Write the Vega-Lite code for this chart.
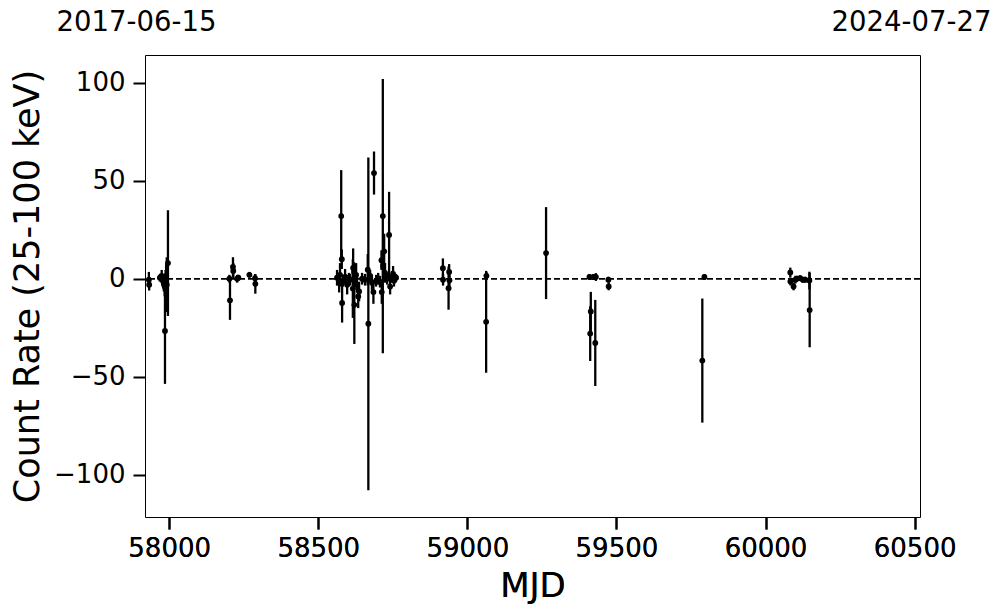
{
  "$schema": "https://vega.github.io/schema/vega-lite/v6.json",
  "width": 775,
  "height": 462,
  "autosize": {"type": "none"},
  "padding": {"left": 145, "top": 55, "right": 77, "bottom": 96},
  "background": "white",
  "config": {
    "font": "DejaVu Sans",
    "view": {"stroke": "black", "strokeWidth": 1},
    "axis": {
      "labelFont": "DejaVu Sans",
      "titleFont": "DejaVu Sans",
      "labelColor": "black",
      "titleColor": "black",
      "tickColor": "black",
      "grid": false,
      "domain": false,
      "labelFlush": false,
      "labelOverlap": false
    }
  },
  "datasets": {
    "obs": [
      {"mjd": 57932, "rate": -0.5, "err": 4},
      {"mjd": 57933, "rate": -3, "err": 3},
      {"mjd": 57969, "rate": 0.5, "err": 2},
      {"mjd": 57975, "rate": 1.5, "err": 3},
      {"mjd": 57979, "rate": -1, "err": 3},
      {"mjd": 57982, "rate": -2.5, "err": 4},
      {"mjd": 57985, "rate": -4, "err": 5},
      {"mjd": 57988, "rate": 0.5, "err": 4},
      {"mjd": 57990, "rate": 1.5, "err": 6},
      {"mjd": 57992, "rate": -3, "err": 14},
      {"mjd": 57986, "rate": -26.7, "err": 27},
      {"mjd": 57996, "rate": 8, "err": 27},
      {"mjd": 58202, "rate": 0, "err": 2},
      {"mjd": 58204, "rate": -11, "err": 10},
      {"mjd": 58214, "rate": 6, "err": 5},
      {"mjd": 58215, "rate": 4, "err": 4},
      {"mjd": 58228, "rate": 0, "err": 2},
      {"mjd": 58232, "rate": 0.5, "err": 1.5},
      {"mjd": 58269, "rate": 2, "err": 1.5},
      {"mjd": 58288, "rate": 0.3, "err": 2},
      {"mjd": 58289, "rate": -2.6, "err": 5},
      {"mjd": 58563, "rate": 0.5, "err": 4},
      {"mjd": 58570, "rate": -2, "err": 5},
      {"mjd": 58573, "rate": 2, "err": 6},
      {"mjd": 58577, "rate": 32, "err": 23.5},
      {"mjd": 58579, "rate": 10, "err": 5},
      {"mjd": 58580, "rate": -12.4, "err": 10},
      {"mjd": 58583, "rate": -1, "err": 3},
      {"mjd": 58590, "rate": 1, "err": 4},
      {"mjd": 58597, "rate": -3, "err": 5},
      {"mjd": 58603, "rate": 0, "err": 3},
      {"mjd": 58607, "rate": -0.5, "err": 3},
      {"mjd": 58616, "rate": -5, "err": 15},
      {"mjd": 58617, "rate": 5.5, "err": 10},
      {"mjd": 58620, "rate": 3.5, "err": 5},
      {"mjd": 58621, "rate": -13.3, "err": 20},
      {"mjd": 58624, "rate": 0.5, "err": 4},
      {"mjd": 58627, "rate": 2, "err": 6},
      {"mjd": 58630, "rate": -3, "err": 4},
      {"mjd": 58634, "rate": -9, "err": 6},
      {"mjd": 58637, "rate": -6.5, "err": 5},
      {"mjd": 58647, "rate": 0, "err": 3},
      {"mjd": 58657, "rate": -0.5, "err": 3},
      {"mjd": 58666, "rate": 4.6, "err": 8},
      {"mjd": 58668, "rate": -23, "err": 85},
      {"mjd": 58674, "rate": 1.5, "err": 3},
      {"mjd": 58680, "rate": -2, "err": 4},
      {"mjd": 58685, "rate": -6.8, "err": 6},
      {"mjd": 58687, "rate": 54, "err": 11},
      {"mjd": 58694, "rate": -1, "err": 3},
      {"mjd": 58701, "rate": 0, "err": 3},
      {"mjd": 58707, "rate": -1.5, "err": 3},
      {"mjd": 58712, "rate": 9.5, "err": 5},
      {"mjd": 58713, "rate": -6.8, "err": 6},
      {"mjd": 58716.5, "rate": 32, "err": 70},
      {"mjd": 58717.5, "rate": 6.5, "err": 8},
      {"mjd": 58721, "rate": 14, "err": 9},
      {"mjd": 58724, "rate": 3, "err": 5},
      {"mjd": 58731, "rate": 0, "err": 3},
      {"mjd": 58737.6, "rate": 22.4, "err": 22},
      {"mjd": 58741, "rate": -4, "err": 4},
      {"mjd": 58747.6, "rate": 1, "err": 3},
      {"mjd": 58751, "rate": 2.5, "err": 4},
      {"mjd": 58754, "rate": -1, "err": 3},
      {"mjd": 58761, "rate": 0.5, "err": 2},
      {"mjd": 58918, "rate": 5.4, "err": 5},
      {"mjd": 58918.5, "rate": -0.5, "err": 3},
      {"mjd": 58937, "rate": -4.8, "err": 11},
      {"mjd": 58939, "rate": 3.5, "err": 4},
      {"mjd": 58940, "rate": -0.8, "err": 3},
      {"mjd": 59063, "rate": -22, "err": 26},
      {"mjd": 59064, "rate": 1.5, "err": 2},
      {"mjd": 59264, "rate": 13.1, "err": 23.5},
      {"mjd": 59409.5, "rate": 0.9, "err": 1.5},
      {"mjd": 59412, "rate": -28, "err": 14},
      {"mjd": 59414, "rate": -16.7, "err": 10},
      {"mjd": 59423, "rate": 0.9, "err": 1.5},
      {"mjd": 59429, "rate": -32.8, "err": 22},
      {"mjd": 59431, "rate": 0.9, "err": 2},
      {"mjd": 59473, "rate": -0.5, "err": 1.5},
      {"mjd": 59474, "rate": -3.9, "err": 2},
      {"mjd": 59788, "rate": -41.8, "err": 31.7},
      {"mjd": 59795, "rate": 0.9, "err": 1.5},
      {"mjd": 60083, "rate": 3.2, "err": 2.5},
      {"mjd": 60083.5, "rate": -1.4, "err": 2},
      {"mjd": 60094, "rate": -3.9, "err": 2},
      {"mjd": 60100, "rate": -0.5, "err": 2},
      {"mjd": 60105, "rate": 0, "err": 1.5},
      {"mjd": 60116, "rate": 0.3, "err": 1.5},
      {"mjd": 60125, "rate": -0.5, "err": 1.5},
      {"mjd": 60133, "rate": -0.5, "err": 1.5},
      {"mjd": 60147, "rate": -0.9, "err": 4.5},
      {"mjd": 60148, "rate": -16, "err": 19}
    ],
    "ends": [
      {"mjd": 57919, "date": "2017-06-15"},
      {"mjd": 60518, "date": "2024-07-27"}
    ]
  },
  "layer": [
    {
      "data": {"name": "obs"},
      "mark": {"type": "point", "filled": true, "size": 34, "color": "black", "opacity": 1},
      "encoding": {
        "x": {
          "field": "mjd",
          "type": "quantitative",
          "scale": {"domain": [57919, 60518], "nice": false, "zero": false},
          "axis": {
            "orient": "bottom",
            "title": "MJD",
            "values": [58000, 58500, 59000, 59500, 60000, 60500],
            "format": "d",
            "labelFontSize": 26,
            "titleFontSize": 34,
            "titleFontWeight": "normal",
            "tickSize": 12,
            "tickWidth": 2,
            "labelPadding": 6,
            "titlePadding": 8
          }
        },
        "y": {
          "field": "rate",
          "type": "quantitative",
          "scale": {"domain": [-121.7, 114.3], "nice": false, "zero": false},
          "axis": {
            "orient": "left",
            "title": "Count Rate (25-100 keV)",
            "values": [-100, -50, 0, 50, 100],
            "labelFontSize": 26,
            "titleFontSize": 35,
            "titleFontWeight": "normal",
            "tickSize": 12,
            "tickWidth": 2,
            "labelPadding": 8,
            "titlePadding": 8
          }
        }
      }
    },
    {
      "data": {"name": "obs"},
      "mark": {"type": "errorbar", "ticks": false, "color": "black", "thickness": 2.3, "rule": {"strokeWidth": 2.3, "color": "black"}},
      "encoding": {
        "x": {
          "field": "mjd",
          "type": "quantitative",
          "axis": {
            "orient": "bottom",
            "title": "MJD",
            "values": [58000, 58500, 59000, 59500, 60000, 60500],
            "format": "d",
            "labelFontSize": 26,
            "titleFontSize": 34,
            "titleFontWeight": "normal",
            "tickSize": 12,
            "tickWidth": 2,
            "labelPadding": 6,
            "titlePadding": 8
          }
        },
        "y": {
          "field": "rate",
          "type": "quantitative",
          "axis": {
            "orient": "left",
            "title": "Count Rate (25-100 keV)",
            "values": [-100, -50, 0, 50, 100],
            "labelFontSize": 26,
            "titleFontSize": 35,
            "titleFontWeight": "normal",
            "tickSize": 12,
            "tickWidth": 2,
            "labelPadding": 8,
            "titlePadding": 8
          }
        },
        "yError": {"field": "err"}
      }
    },
    {
      "data": {"name": "ends"},
      "mark": {"type": "point", "opacity": 0},
      "encoding": {
        "x": {
          "field": "mjd",
          "type": "quantitative",
          "axis": {
            "orient": "top",
            "title": null,
            "values": [57919, 60518],
            "labelExpr": "datum.value < 59000 ? '2017-06-15' : '2024-07-27'",
            "ticks": false,
            "labelFontSize": 27.5,
            "labelPadding": 19,
            "labelOffset": -9
          }
        }
      }
    },
    {
      "data": {"name": "ends"},
      "mark": {"type": "rule", "color": "black", "strokeWidth": 1.5, "strokeDash": [6, 3]},
      "encoding": {
        "y": {
          "datum": 0,
          "type": "quantitative",
          "axis": {
            "orient": "left",
            "title": "Count Rate (25-100 keV)",
            "values": [-100, -50, 0, 50, 100],
            "labelFontSize": 26,
            "titleFontSize": 35,
            "titleFontWeight": "normal",
            "tickSize": 12,
            "tickWidth": 2,
            "labelPadding": 8,
            "titlePadding": 8
          }
        }
      }
    }
  ]
}
